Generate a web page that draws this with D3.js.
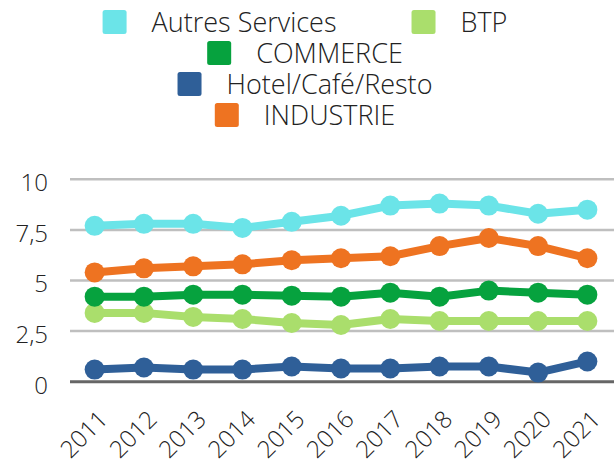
<!DOCTYPE html>
<html>
<head>
<meta charset="utf-8">
<script src="https://cdn.jsdelivr.net/npm/d3@7/dist/d3.min.js"></script>
<style>
  html, body { margin: 0; padding: 0; background: #fff; }
  svg { display: block; font-family: "Open Sans", sans-serif; font-weight: 300; }
</style>
</head>
<body>
<svg id="chart" width="614" height="464"></svg>
<script>
// Employment by sector, 2011–2021
const years = ["2011","2012","2013","2014","2015","2016","2017","2018","2019","2020","2021"];
const seriesNames = ["Autres Services", "BTP", "COMMERCE", "Hotel/Café/Resto", "INDUSTRIE"];
const seriesColors = ["#6be4e8", "#aade6c", "#06a23e", "#2f5f98", "#ee7321"];
const autresServices = [7.7, 7.8, 7.8, 7.6, 7.9, 8.2, 8.7, 8.8, 8.7, 8.3, 8.5];
const btp            = [3.4, 3.4, 3.2, 3.1, 2.9, 2.8, 3.1, 3.0, 3.0, 3.0, 3.0];
const commerce       = [4.2, 4.2, 4.3, 4.3, 4.25, 4.2, 4.4, 4.2, 4.5, 4.4, 4.3];
const hotelCafeResto = [0.6, 0.7, 0.6, 0.6, 0.75, 0.65, 0.65, 0.75, 0.75, 0.45, 1.0];
const industrie      = [5.4, 5.6, 5.7, 5.8, 6.0, 6.1, 6.2, 6.7, 7.1, 6.7, 6.1];
const yTicks = [0, 2.5, 5, 7.5, 10];

const seriesValues = [autresServices, btp, commerce, hotelCafeResto, industrie];

const svg = d3.select("#chart");
const plot = { left: 70, right: 612, top: 179.3, bottom: 381.7 };

const x = d3.scalePoint().domain(years).range([plot.left, plot.right]).padding(0.5);
const y = d3.scaleLinear().domain([0, 10]).range([plot.bottom, plot.top]);

// horizontal gridlines
svg.append("g").selectAll("line")
  .data(yTicks.filter(d => d !== 0))
  .join("line")
  .attr("x1", plot.left).attr("x2", 614)
  .attr("y1", d => y(d)).attr("y2", d => y(d))
  .attr("stroke", "#bfbfbf").attr("stroke-width", 2.5);

// baseline
svg.append("line")
  .attr("x1", plot.left).attr("x2", 614)
  .attr("y1", y(0)).attr("y2", y(0))
  .attr("stroke", "#666").attr("stroke-width", 3);

// y axis labels
const yAxis = d3.axisLeft(y).tickValues(yTicks).tickSize(0).tickPadding(0)
  .tickFormat(d => String(d).replace(".", ","));
const gy = svg.append("g").attr("transform", "translate(48,0)").call(yAxis);
gy.select(".domain").remove();
gy.selectAll("text")
  .attr("font-family", "Open Sans, sans-serif").attr("font-weight", 300)
  .attr("font-size", 24).attr("fill", "#222")
  .attr("dy", null).attr("y", 11.4).attr("x", 0);

// x axis labels, rotated
const xAxis = d3.axisBottom(x).tickSize(0).tickPadding(0);
const gx = svg.append("g").attr("transform", `translate(0,${plot.bottom})`).call(xAxis);
gx.select(".domain").remove();
gx.selectAll("text")
  .attr("font-family", "Open Sans, sans-serif").attr("font-weight", 300)
  .attr("font-size", 24).attr("fill", "#222")
  .attr("dy", null).attr("y", 0).attr("x", 0)
  .attr("text-anchor", "end")
  .attr("transform", "translate(14,39) rotate(-45)");

// series lines and markers
const line = d3.line().x((d, i) => x(years[i])).y(d => y(d));
seriesValues.forEach((vals, s) => {
  const g = svg.append("g");
  g.append("path").datum(vals)
    .attr("d", line)
    .attr("fill", "none")
    .attr("stroke", seriesColors[s])
    .attr("stroke-width", 8)
    .attr("stroke-linejoin", "round");
  g.selectAll("circle").data(vals).join("circle")
    .attr("cx", (d, i) => x(years[i]))
    .attr("cy", d => y(d))
    .attr("r", 10)
    .attr("fill", seriesColors[s]);
});

// legend
const legendRows = [[0, 1], [2], [3], [4]];
const legendTop = 22, rowStep = 31, legendCenter = 305;
const sw = 24, gapText = 25, gapItem = 75;
const legend = svg.append("g");
legendRows.forEach((row, r) => {
  const cy = legendTop + r * rowStep;
  const rowG = legend.append("g");
  let cursor = 0;
  row.forEach((si, k) => {
    if (k > 0) cursor += gapItem;
    rowG.append("rect")
      .attr("x", cursor).attr("y", cy - sw / 2)
      .attr("width", sw).attr("height", sw).attr("rx", 2.5)
      .attr("fill", seriesColors[si]);
    cursor += sw + gapText;
    const t = rowG.append("text")
      .attr("x", cursor).attr("y", cy + 10)
      .attr("font-size", 27).attr("fill", "#222")
      .text(seriesNames[si]);
    cursor += t.node().getComputedTextLength();
  });
  rowG.attr("transform", `translate(${legendCenter - cursor / 2},0)`);
});
</script>
</body>
</html>
